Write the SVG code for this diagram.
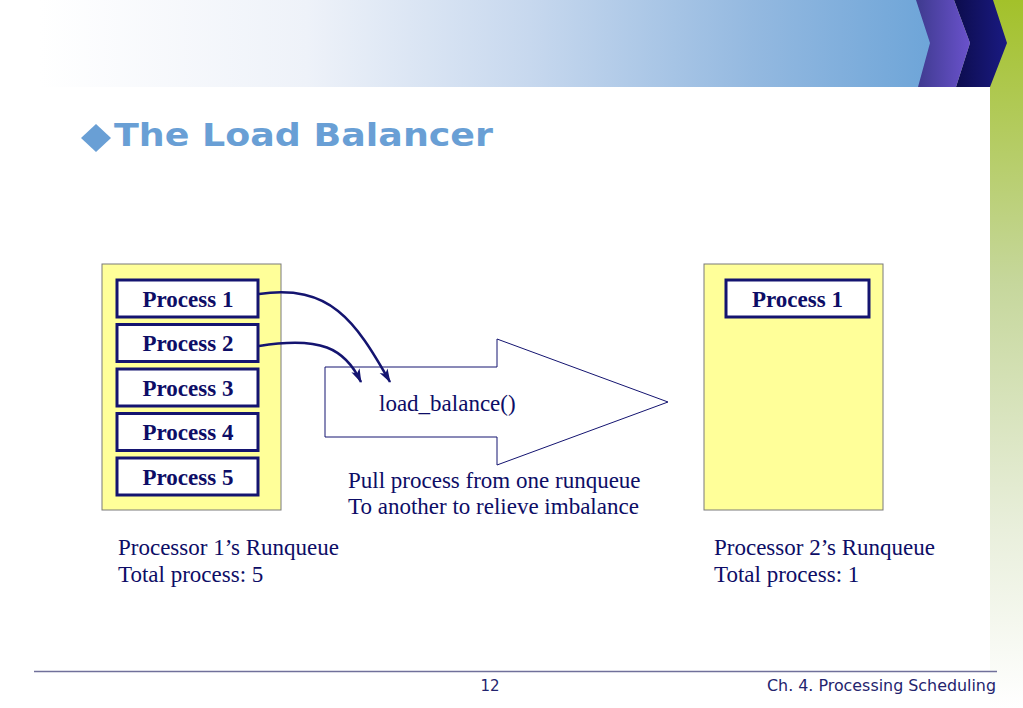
<svg xmlns="http://www.w3.org/2000/svg" width="1023" height="708" viewBox="0 0 1023 708">
<defs>
<linearGradient id="hdr" x1="0" y1="0" x2="1" y2="0">
<stop offset="0" stop-color="#ffffff"/>
<stop offset="0.3" stop-color="#eef2f9"/>
<stop offset="0.55" stop-color="#c7d8ee"/>
<stop offset="0.8" stop-color="#94b9e0"/>
<stop offset="1" stop-color="#6ea5d8"/>
</linearGradient>
<linearGradient id="purp" x1="0" y1="0" x2="1" y2="0">
<stop offset="0" stop-color="#3e3a8e"/>
<stop offset="1" stop-color="#6a52cc"/>
</linearGradient>
<linearGradient id="navy" x1="0" y1="0" x2="1" y2="0">
<stop offset="0" stop-color="#0c0c4c"/>
<stop offset="1" stop-color="#1a1a82"/>
</linearGradient>
<linearGradient id="grn" x1="0" y1="0" x2="0" y2="1">
<stop offset="0" stop-color="#a3c12a"/>
<stop offset="0.4" stop-color="#c6d79c"/>
<stop offset="0.75" stop-color="#e9efdc"/>
<stop offset="1" stop-color="#ffffff"/>
</linearGradient>
<marker id="ah" viewBox="0 0 14 10" refX="13" refY="5" markerWidth="14" markerHeight="10" markerUnits="userSpaceOnUse" orient="auto">
<path d="M0,0.5 L14,5 L0,9.5 L3.5,5 Z" fill="#141470"/>
</marker>
<style>
.cont{fill:#ffff99;stroke:#7a7a7a;stroke-width:1}
.pbox{fill:#ffffff;stroke:#141470;stroke-width:3}
.ptxt{font-family:"Liberation Serif",serif;font-weight:bold;font-size:23px;fill:#0d0d66;text-anchor:middle}
.txt{font-family:"Liberation Serif",serif;font-size:23px;fill:#0d0d66}
.conn{fill:none;stroke:#141470;stroke-width:2.5;marker-end:url(#ah)}
</style>
</defs>
<rect width="1023" height="708" fill="#ffffff"/>
<g id="header">
<rect x="40" y="0" width="890" height="87" fill="url(#hdr)"/>
<rect x="990" y="0" width="33" height="708" fill="url(#grn)"/>
<polygon points="916,0 954,0 970,43 956,87 918,87 930,43" fill="url(#purp)"/>
<polygon points="954,0 993,0 1007,43 990,87 956,87 970,43" fill="url(#navy)"/>
</g>
<g id="title">
<polygon points="81,138 96,124 111,138 96,152" fill="#699fd5"/>
<text x="114" y="146" font-family="DejaVu Sans, Verdana, sans-serif" font-weight="bold" font-size="32" fill="#699fd5" textLength="379" lengthAdjust="spacingAndGlyphs">The Load Balancer</text>
</g>
<g id="runqueue1">
<rect class="cont" x="102" y="264" width="179" height="246"/>
<text class="txt" x="118" y="555">Processor 1’s Runqueue</text>
<text class="txt" x="118" y="582">Total process: 5</text>
</g>
<g id="p1-1"><rect class="pbox" x="117" y="280" width="141" height="37"/><text class="ptxt" x="188" y="306.5">Process 1</text></g>
<g id="p1-2"><rect class="pbox" x="117" y="324.5" width="141" height="37"/><text class="ptxt" x="188" y="351">Process 2</text></g>
<g id="p1-3"><rect class="pbox" x="117" y="369" width="141" height="37"/><text class="ptxt" x="188" y="395.5">Process 3</text></g>
<g id="p1-4"><rect class="pbox" x="117" y="413.5" width="141" height="37"/><text class="ptxt" x="188" y="440">Process 4</text></g>
<g id="p1-5"><rect class="pbox" x="117" y="458" width="141" height="37"/><text class="ptxt" x="188" y="484.5">Process 5</text></g>
<g id="load_balance">
<polygon points="325,367 497,367 497,339 668,402 497,465 497,437 325,437" fill="#ffffff" stroke="#141470" stroke-width="1"/>
<text class="txt" x="379" y="411">load_balance()</text>
<text class="txt" x="348" y="488">Pull process from one runqueue</text>
<text class="txt" x="348" y="514">To another to relieve imbalance</text>
</g>
<g id="runqueue2">
<rect class="cont" x="704" y="264" width="179" height="246"/>
<text class="txt" x="714" y="555">Processor 2’s Runqueue</text>
<text class="txt" x="714" y="582">Total process: 1</text>
</g>
<g id="p2-1"><rect class="pbox" x="726" y="280" width="143" height="37"/><text class="ptxt" x="797.5" y="306.5">Process 1</text></g>
<g id="connectors">
<path class="conn" d="M259,294 C330,284 355,320 390,382"/>
<path class="conn" d="M259,346 C320,336 345,348 361,382"/>
</g>
<g id="footer">
<line x1="34" y1="671.5" x2="997" y2="671.5" stroke="#70709a" stroke-width="1.5"/>
<text x="490" y="691" font-family="DejaVu Sans, Verdana, sans-serif" font-size="15" fill="#24246e" text-anchor="middle">12</text>
<text x="767" y="691" font-family="DejaVu Sans, Verdana, sans-serif" font-size="15" fill="#24246e" textLength="229" lengthAdjust="spacingAndGlyphs">Ch. 4. Processing Scheduling</text>
</g>
</svg>
